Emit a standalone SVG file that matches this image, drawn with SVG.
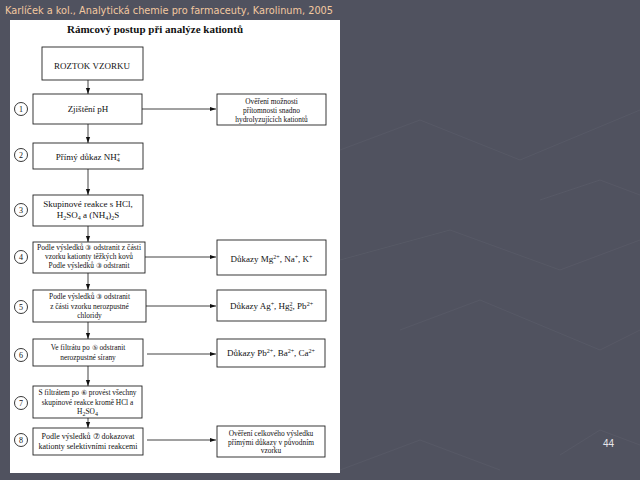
<svg xmlns="http://www.w3.org/2000/svg" width="640" height="480" viewBox="0 0 640 480">
<defs>
<marker id="ah" viewBox="0 0 10 10" refX="10" refY="5" markerWidth="6" markerHeight="6" markerUnits="userSpaceOnUse" orient="auto"><path d="M0,1.5 L10,5 L0,8.5 Z" fill="#111"/></marker>
</defs>
<style>
.bg{fill:#50525f}
.deco{fill:none;stroke:#575966;stroke-width:1}
.panel{fill:#ffffff}
.box{fill:#ffffff;stroke:#222;stroke-width:0.9}
.c{fill:#ffffff;stroke:#222;stroke-width:0.9}
.t{font-family:"Liberation Serif",serif;fill:#111;text-anchor:middle}
.m{font-size:9px}
.s{font-size:7.4px}
.n{font-size:8px}
.h{font-size:11px;font-weight:bold}
.sb{font-size:6px;baseline-shift:-1.5px}
.sp{font-size:6px;baseline-shift:3px}
.ln{stroke:#111;stroke-width:0.8;fill:none;marker-end:url(#ah)}
.title{font-family:"DejaVu Sans","Noto Sans",sans-serif;font-size:11px;fill:#f3c9a0}
.pg{font-family:"Liberation Sans",sans-serif;font-size:10px;fill:#e6e6ea}
</style>
<rect class="bg" x="0" y="0" width="640" height="480"/>
<g id="background">
<polyline class="deco" points="340,150 420,120 520,160 640,110"/>
<polyline class="deco" points="340,260 450,230 560,270 640,240"/>
<polyline class="deco" points="400,330 480,300 600,350 640,330"/>
<polyline class="deco" points="340,470 420,440 500,470"/>
<polyline class="deco" points="560,455 600,430 640,445"/>
<polyline class="deco" points="540,200 600,180 640,195"/>
</g>
<text class="title" x="5" y="14" textLength="328" lengthAdjust="spacingAndGlyphs">Karlíček a kol., Analytická chemie pro farmaceuty, Karolinum, 2005</text>
<rect class="panel" x="10" y="20" width="330" height="453"/>
<text class="t h" x="155" y="33">Rámcový postup při analýze kationtů</text>

<g id="connectors">
<line class="ln" x1="88" y1="80" x2="88" y2="94"/>
<line class="ln" x1="88" y1="124" x2="88" y2="143"/>
<line class="ln" x1="88" y1="169" x2="88" y2="195"/>
<line class="ln" x1="88" y1="226" x2="88" y2="242"/>
<line class="ln" x1="88" y1="273" x2="88" y2="290"/>
<line class="ln" x1="88" y1="322" x2="88" y2="339"/>
<line class="ln" x1="88" y1="366" x2="88" y2="386"/>
<line class="ln" x1="88" y1="418" x2="88" y2="428"/>
<line class="ln" x1="142" y1="109" x2="216" y2="109"/>
<line class="ln" x1="145" y1="257" x2="216" y2="257"/>
<line class="ln" x1="146" y1="306" x2="216" y2="306"/>
<line class="ln" x1="147" y1="354" x2="216" y2="354"/>
<line class="ln" x1="147" y1="440" x2="216" y2="440"/>
</g>

<g id="roztok">
<rect class="box" x="42" y="47" width="101" height="33"/>
<text class="t m" x="92" y="69">ROZTOK VZORKU</text>
</g>

<g id="step1">
<circle class="c" cx="21" cy="109" r="6.5"/><text class="t n" x="21" y="112">1</text>
<rect class="box" x="33" y="94" width="109" height="30"/>
<text class="t m" x="88" y="112">Zjištění  pH</text>
</g>
<g id="result1">
<rect class="box" x="217" y="94" width="109" height="31"/>
<text class="t s" x="271.5" y="104">Ověření možnosti</text>
<text class="t s" x="271.5" y="113">přítomnosti snadno</text>
<text class="t s" x="271.5" y="122">hydrolyzujících kationtů</text>
</g>

<g id="step2">
<circle class="c" cx="21" cy="155" r="6.5"/><text class="t n" x="21" y="158">2</text>
<rect class="box" x="33" y="143" width="110" height="26"/>
<text class="t m" x="88" y="160">Přímý důkaz  NH<tspan class="sb">4</tspan><tspan class="sp" dx="-3">+</tspan></text>
</g>

<g id="step3">
<circle class="c" cx="21" cy="210" r="6.5"/><text class="t n" x="21" y="213">3</text>
<rect class="box" x="33" y="195" width="110" height="31"/>
<text class="t m" x="88" y="207">Skupinové reakce s HCl,</text>
<text class="t m" x="88" y="218">H<tspan class="sb">2</tspan>SO<tspan class="sb">4</tspan> a (NH<tspan class="sb">4</tspan>)<tspan class="sb">2</tspan>S</text>
</g>

<g id="step4">
<circle class="c" cx="21" cy="257" r="6.5"/><text class="t n" x="21" y="260">4</text>
<rect class="box" x="33" y="242" width="112" height="31"/>
<text class="t s" x="89" y="250" textLength="104" lengthAdjust="spacingAndGlyphs">Podle výsledků ③ odstranit z části</text>
<text class="t s" x="89" y="259">vzorku kationty těžkých kovů</text>
<text class="t s" x="89" y="268">Podle výsledků ③ odstranit</text>
</g>
<g id="result4">
<rect class="box" x="217" y="240" width="109" height="35"/>
<text class="t m" x="271.5" y="262">Důkazy Mg<tspan class="sp">2+</tspan>, Na<tspan class="sp">+</tspan>, K<tspan class="sp">+</tspan></text>
</g>

<g id="step5">
<circle class="c" cx="21" cy="307" r="6.5"/><text class="t n" x="21" y="310">5</text>
<rect class="box" x="33" y="290" width="113" height="32"/>
<text class="t s" x="89.5" y="299">Podle výsledků ③ odstranit</text>
<text class="t s" x="89.5" y="308.5">z části vzorku nerozpustné</text>
<text class="t s" x="89.5" y="318">chloridy</text>
</g>
<g id="result5">
<rect class="box" x="217" y="290" width="109" height="31"/>
<text class="t m" x="271.5" y="309">Důkazy Ag<tspan class="sp">+</tspan>, Hg<tspan class="sb">2</tspan><tspan class="sp" dx="-3">2</tspan>, Pb<tspan class="sp">2+</tspan></text>
</g>

<g id="step6">
<circle class="c" cx="21" cy="355" r="6.5"/><text class="t n" x="21" y="358">6</text>
<rect class="box" x="33" y="339" width="110" height="27"/>
<text class="t s" x="88" y="350">Ve filtrátu po ⑤ odstranit</text>
<text class="t s" x="88" y="360">nerozpustné sírany</text>
</g>
<g id="result6">
<rect class="box" x="217" y="339" width="108" height="28"/>
<text class="t m" x="271" y="356">Důkazy Pb<tspan class="sp">2+</tspan>, Ba<tspan class="sp">2+</tspan>, Ca<tspan class="sp">2+</tspan></text>
</g>

<g id="step7">
<circle class="c" cx="21" cy="403" r="6.5"/><text class="t n" x="21" y="406">7</text>
<rect class="box" x="33" y="386" width="109" height="32"/>
<text class="t s" x="87.5" y="395">S filtrátem po ⑥ provést všechny</text>
<text class="t s" x="87.5" y="404.5">skupinové reakce kromě HCl a</text>
<text class="t s" x="87.5" y="414">H<tspan class="sb" font-size="5.5">2</tspan>SO<tspan class="sb" font-size="5.5">4</tspan></text>
</g>

<g id="step8">
<circle class="c" cx="21" cy="440" r="6.5"/><text class="t n" x="21" y="443">8</text>
<rect class="box" x="33" y="428" width="110" height="27"/>
<text class="t n" x="88" y="439">Podle výsledků ⑦ dokazovat</text>
<text class="t n" x="88" y="449">kationty selektivními reakcemi</text>
</g>
<g id="result8">
<rect class="box" x="217" y="426" width="108" height="31"/>
<text class="t s" x="271" y="436">Ověření celkového výsledku</text>
<text class="t s" x="271" y="444.5">přímými důkazy v původním</text>
<text class="t s" x="271" y="453">vzorku</text>
</g>

<text class="pg" x="603" y="447">44</text>
</svg>
